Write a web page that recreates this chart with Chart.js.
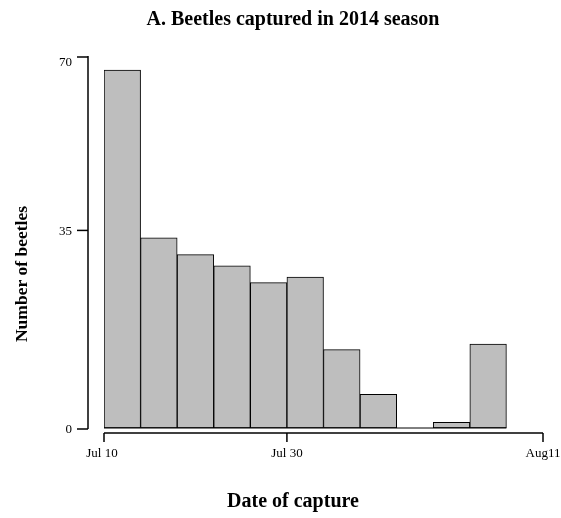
<!DOCTYPE html>
<html>
<head>
<meta charset="utf-8">
<script src="https://cdn.jsdelivr.net/npm/chart.js@4.4.1/dist/chart.umd.min.js"></script>
<style>
html, body { margin: 0; padding: 0; background: #fff; }
</style>
</head>
<body>
<canvas id="beetleChart" width="561" height="518"></canvas>
<script>
// 捕获日期分组（每组一个柱）
const binStarts = [0, 1, 2, 3, 4, 5, 6, 7, 8, 9, 10];
const beetleCounts = [64, 34, 31, 29, 26, 27, 14, 6, 0, 1, 15];

// 坐标轴刻度
const xTickValues = [0, 5, 12];
const xTickLabels = ['Jul 10', 'Jul 30', 'Aug11'];
const yTickValues = [0, 35.5, 66.5];
const yTickLabels = ['0', '35', '70'];

const serif = "'Liberation Serif', 'DejaVu Serif', serif";

// 画 R 风格的分离坐标轴和标题
const rStyleAxes = {
    id: 'rStyleAxes',
    afterDraw(chart) {
        const ctx = chart.ctx;
        const x = chart.scales.x;
        const y = chart.scales.y;
        const x0 = x.getPixelForValue(0);
        const y0 = y.getPixelForValue(0);
        ctx.save();
        ctx.strokeStyle = '#000';
        ctx.fillStyle = '#000';

        // 柱底线
        ctx.lineWidth = 1;
        ctx.beginPath();
        ctx.moveTo(x0, y0);
        ctx.lineTo(x.getPixelForValue(binStarts.length), y0);
        ctx.stroke();

        // y 轴
        const axX = x0 - 16;
        ctx.lineWidth = 1.5;
        ctx.beginPath();
        ctx.moveTo(axX, y.getPixelForValue(yTickValues[yTickValues.length - 1]));
        ctx.lineTo(axX, y0 + 1);
        ctx.stroke();
        ctx.font = '13px ' + serif;
        ctx.textAlign = 'right';
        ctx.textBaseline = 'middle';
        yTickValues.forEach((v, i) => {
            const py = y.getPixelForValue(v) + 1;
            ctx.beginPath();
            ctx.moveTo(axX - 11, py);
            ctx.lineTo(axX, py);
            ctx.stroke();
            ctx.fillText(yTickLabels[i], axX - 16, py + (i === 2 ? 6 : 1));
        });

        // x 轴
        const axY = y0 + 5;
        ctx.beginPath();
        ctx.moveTo(x0, axY);
        ctx.lineTo(x.getPixelForValue(xTickValues[xTickValues.length - 1]), axY);
        ctx.stroke();
        ctx.textAlign = 'center';
        ctx.textBaseline = 'top';
        xTickValues.forEach((v, i) => {
            const px = x.getPixelForValue(v);
            ctx.beginPath();
            ctx.moveTo(px, axY);
            ctx.lineTo(px, axY + 9);
            ctx.stroke();
            ctx.fillText(xTickLabels[i], px - (i === 0 ? 2 : 0), axY + 14);
        });

        // 标题
        ctx.font = 'bold 20px ' + serif;
        ctx.textBaseline = 'alphabetic';
        ctx.fillText('A. Beetles captured in 2014 season', 293, 25);
        ctx.fillText('Date of capture', 293, 507);

        ctx.font = 'bold 17.5px ' + serif;
        ctx.translate(27, 274);
        ctx.rotate(-Math.PI / 2);
        ctx.fillText('Number of beetles', 0, 0);
        ctx.restore();
    }
};

const chartCtx = document.getElementById('beetleChart').getContext('2d');
const beetleChart = new Chart(chartCtx, {
    type: 'bar',
    data: {
        datasets: [{
            label: 'Number of beetles',
            data: binStarts.map((b, i) => ({ x: b + 0.5, y: beetleCounts[i] })),
            backgroundColor: '#bebebe',
            borderColor: '#000',
            borderWidth: 1,
            borderSkipped: false,
            barPercentage: 1,
            categoryPercentage: 1
        }]
    },
    options: {
        responsive: false,
        animation: false,
        devicePixelRatio: 1,
        layout: {
            padding: { left: 104, right: 18, top: 56, bottom: 90 }
        },
        scales: {
            x: { type: 'linear', min: 0, max: 12, offset: false, display: false },
            y: { type: 'linear', min: 0, max: 66.5, display: false }
        },
        plugins: {
            legend: { display: false },
            tooltip: { enabled: false }
        }
    },
    plugins: [rStyleAxes]
});
</script>
</body>
</html>
